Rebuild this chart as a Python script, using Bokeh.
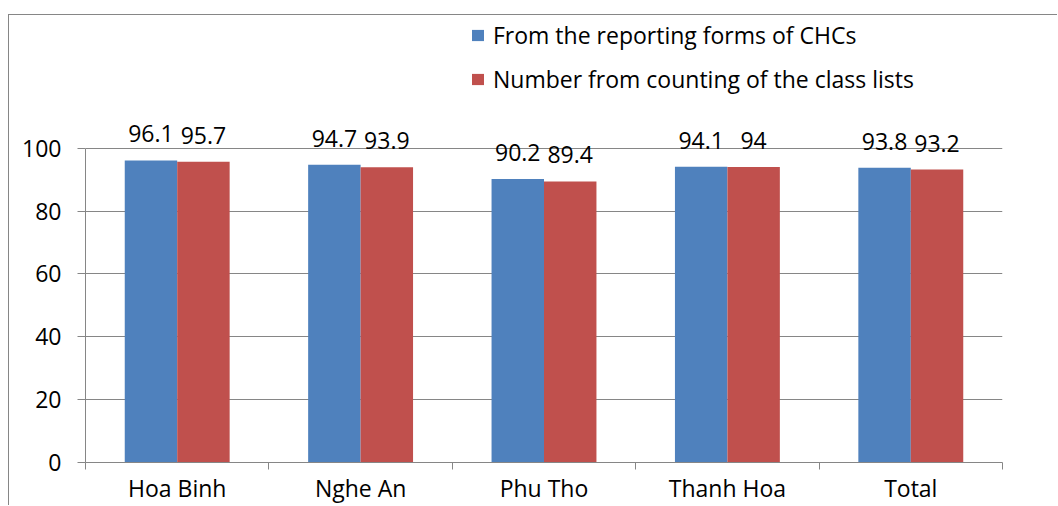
from bokeh.plotting import figure
from bokeh.models import (FixedTicker, Legend, LegendItem, LabelSet,
                          ColumnDataSource, Range1d)
from bokeh.core.properties import value
from bokeh.transform import dodge
from bokeh.embed import file_html
from bokeh.resources import INLINE

categories = ["Hoa Binh", "Nghe An", "Phu Tho", "Thanh Hoa", "Total"]
reporting_forms = [96.1, 94.7, 90.2, 94.1, 93.8]
class_lists = [95.7, 93.9, 89.4, 94.0, 93.2]
series_names = ["From the reporting forms of CHCs",
                "Number from counting of the class lists"]
y_ticks = [0, 20, 40, 60, 80, 100]

BLUE = "#4F81BD"
RED = "#C0504D"
GRID = "#868686"
FONT = "Open Sans"

centers = [i + 0.5 for i in range(len(categories))]
bounds = list(range(len(categories) + 1))

src = ColumnDataSource(dict(
    x=centers,
    a=reporting_forms,
    b=class_lists,
    la=[f"{v:g}" for v in reporting_forms],
    lb=[f"{v:g}" for v in class_lists],
))

p = figure(width=1049, height=491,
           x_range=Range1d(0, len(categories)), y_range=Range1d(0, 142.2),
           output_backend="svg", toolbar_location=None,
           min_border_left=76, min_border_right=56,
           min_border_top=0, min_border_bottom=43,
           styles={"border-top": f"1px solid {GRID}",
                   "border-left": f"1px solid {GRID}",
                   "margin-top": "14px", "margin-left": "8px"})
p.outline_line_color = None
p.background_fill_color = "white"
p.border_fill_color = "white"

bw = 0.286
r1 = p.vbar(x=dodge("x", -bw / 2), top="a", bottom=0, width=bw, source=src,
            fill_color=BLUE, line_color=None)
r2 = p.vbar(x=dodge("x", bw / 2), top="b", bottom=0, width=bw, source=src,
            fill_color=RED, line_color=None)

for col, lab, off in (("a", "la", -bw / 2), ("b", "lb", bw / 2)):
    p.add_layout(LabelSet(x=dodge("x", off), y=col, text=lab, source=src,
                          y_offset=18, text_align="center",
                          text_baseline="alphabetic",
                          text_font=value(FONT), text_font_size="23px",
                          text_color="black"))

# x axis
p.xaxis.ticker = FixedTicker(ticks=centers, minor_ticks=bounds)
p.xaxis.major_label_overrides = {c: n for c, n in zip(centers, categories)}
p.xaxis.major_tick_out = 0
p.xaxis.major_tick_in = 0
p.xaxis.minor_tick_out = 7
p.xaxis.minor_tick_in = 0
p.xaxis.minor_tick_line_color = GRID
p.xaxis.axis_line_color = GRID
p.xaxis.major_label_standoff = 2
p.xgrid.visible = False

# y axis
p.yaxis.ticker = FixedTicker(ticks=y_ticks, minor_ticks=[])
p.yaxis.bounds = (0, 100)
p.yaxis.major_tick_out = 8
p.yaxis.major_tick_in = 0
p.yaxis.minor_tick_out = 0
p.yaxis.minor_tick_in = 0
p.yaxis.major_tick_line_color = GRID
p.yaxis.axis_line_color = GRID
p.yaxis.major_label_standoff = 16
p.ygrid.grid_line_color = GRID

for ax in (p.xaxis, p.yaxis):
    ax.major_label_text_font = FONT
    ax.major_label_text_font_size = "23px"
    ax.major_label_text_color = "black"

legend = Legend(items=[LegendItem(label=series_names[0], renderers=[r1]),
                       LegendItem(label=series_names[1], renderers=[r2])],
                location=(385, 367), orientation="vertical",
                glyph_width=15, glyph_height=14, label_standoff=8,
                spacing=12, padding=0, margin=0,
                border_line_color=None, background_fill_alpha=0,
                label_text_font=FONT, label_text_font_size="23px",
                label_text_color="black")
p.add_layout(legend)

open("out.html", "w").write(file_html(p, INLINE))
